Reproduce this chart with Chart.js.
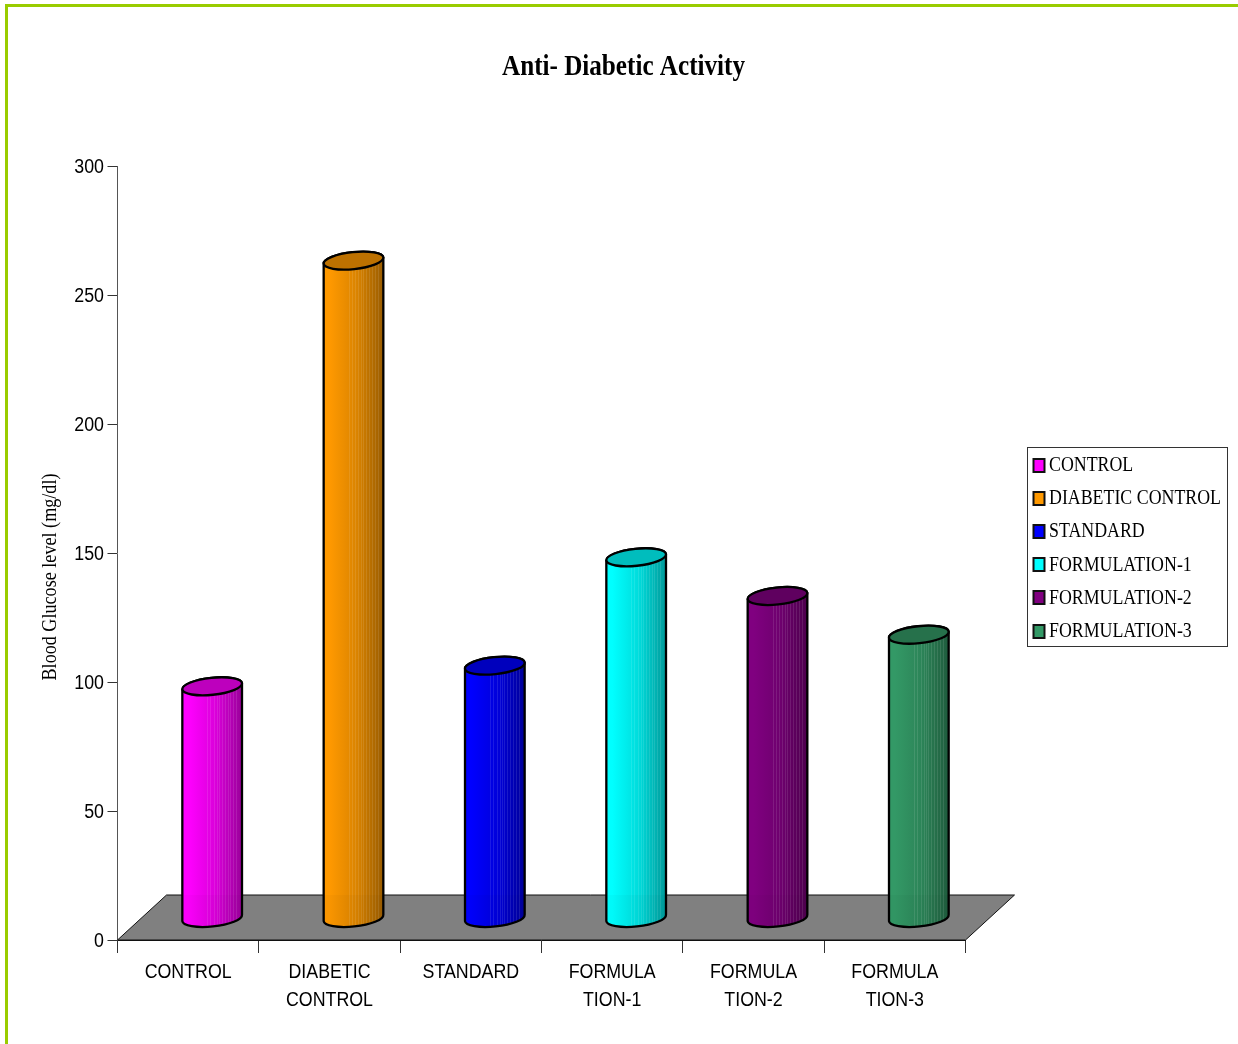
<!DOCTYPE html>
<html>
<head>
<meta charset="utf-8">
<title>Anti- Diabetic Activity</title>
<script src="https://cdn.jsdelivr.net/npm/chart.js@4/dist/chart.umd.min.js"></script>
<style>
    html, body { margin: 0; padding: 0; background: #fff; }
    #page { position: relative; width: 1238px; height: 1044px; overflow: hidden; }
    #frame { position: absolute; left: 5px; top: 4px; right: 0; bottom: 0; border-left: 3px solid #99cc00; border-top: 3px solid #99cc00; }
    #glucoseChart { position: absolute; left: 0; top: 0; }
</style>
</head>
<body>
<div id="page">
    <div id="frame"></div>
    <canvas id="glucoseChart" width="1238" height="1044"></canvas>
</div>
<script>
// Groupes et valeurs
const groupNames = ['CONTROL', 'DIABETIC CONTROL', 'STANDARD', 'FORMULATION-1', 'FORMULATION-2', 'FORMULATION-3'];
const tickLabels = [['CONTROL'], ['DIABETIC', 'CONTROL'], ['STANDARD'], ['FORMULA', 'TION-1'], ['FORMULA', 'TION-2'], ['FORMULA', 'TION-3']];
const glucoseValues = [90, 255, 98, 140, 125, 110];
const groupColors = ['#ff00ff', '#ff9900', '#0000ff', '#00ffff', '#800080', '#339966'];
const yTicks = [0, 50, 100, 150, 200, 250, 300];

const SERIF = '"Liberation Serif", "Times New Roman", serif';
const SANS = '"Liberation Sans", Arial, sans-serif';

// Décalage pseudo 3D : sol et position des cylindres sur le sol
const floorDepth = { x: 49, y: 45 };
const barShift = { x: 24, y: -21.5 };
const capRadiusY = 8.5;
const capTilt = -6 * Math.PI / 180;
const stripes = [0.42, 0.47, 0.53, 0.58, 0.62, 0.66, 0.71, 0.76, 0.8, 0.85, 0.9];

function shade(hex, k) {
    const n = parseInt(hex.slice(1), 16);
    const c = [(n >> 16) & 255, (n >> 8) & 255, n & 255].map(v => Math.round(v * k));
    return `rgb(${c[0]}, ${c[1]}, ${c[2]})`;
}

// Texte à chasse réduite
function squeezedText(ctx, text, x, y, font, scaleX, align) {
    ctx.save();
    ctx.font = font;
    ctx.fillStyle = '#000';
    ctx.textBaseline = 'middle';
    ctx.textAlign = align;
    ctx.translate(x, y);
    ctx.scale(scaleX, 1);
    ctx.fillText(text, 0, 0);
    ctx.restore();
}

function widthScale(ctx, text, font, width) {
    ctx.save();
    ctx.font = font;
    const s = width / ctx.measureText(text).width;
    ctx.restore();
    return s;
}

// Contour du cylindre : bord gauche, demi-ellipse basse, bord droit, demi-ellipse haute
function cylinderPath(ctx, el) {
    const rx = el.width / 2;
    ctx.moveTo(el.x - rx * Math.cos(capTilt), el.y - rx * Math.sin(capTilt));
    ctx.ellipse(el.x, el.base, rx, capRadiusY, capTilt, Math.PI, 0, true);
    ctx.ellipse(el.x, el.y, rx, capRadiusY, capTilt, 0, Math.PI, true);
    ctx.closePath();
}

const cylinderPlugin = {
    id: 'cylinders',
    beforeDatasetsDraw(chart) {
        // Sol gris
        const { ctx, scales: { x, y } } = chart;
        const y0 = y.getPixelForValue(0);
        ctx.save();
        ctx.beginPath();
        ctx.moveTo(x.left, y0);
        ctx.lineTo(x.right, y0);
        ctx.lineTo(x.right + floorDepth.x, y0 - floorDepth.y);
        ctx.lineTo(x.left + floorDepth.x, y0 - floorDepth.y);
        ctx.closePath();
        ctx.fillStyle = '#808080';
        ctx.fill();
        ctx.strokeStyle = '#111';
        ctx.lineWidth = 1;
        ctx.stroke();
        ctx.restore();
    },
    beforeDatasetDraw(chart, args) {
        // Les barres sont posées sur le sol, et découpées à la forme des cylindres
        const { ctx } = chart;
        ctx.save();
        ctx.translate(barShift.x, barShift.y);
        ctx.beginPath();
        args.meta.data.forEach(el => cylinderPath(ctx, el));
        ctx.clip();
    },
    afterDatasetDraw(chart, args) {
        const { ctx, scales: { y } } = chart;
        const floorBack = y.getPixelForValue(0) - floorDepth.y - barShift.y;
        ctx.restore();
        ctx.save();
        ctx.translate(barShift.x, barShift.y);
        args.meta.data.forEach((el, i) => {
            const color = groupColors[i];
            const left = el.x - el.width / 2;
            const grad = ctx.createLinearGradient(left, 0, left + el.width, 0);
            grad.addColorStop(0, color);
            grad.addColorStop(0.1, color);
            grad.addColorStop(0.55, shade(color, 0.86));
            grad.addColorStop(1, shade(color, 0.6));

            ctx.save();
            ctx.beginPath();
            cylinderPath(ctx, el);
            ctx.fillStyle = grad;
            ctx.fill();
            ctx.clip();
            ctx.strokeStyle = 'rgba(255, 255, 255, 0.1)';
            ctx.lineWidth = 1;
            stripes.forEach(t => {
                const sx = Math.round(left + el.width * t) + 0.5;
                ctx.beginPath();
                ctx.moveTo(sx, el.y - 20);
                ctx.lineTo(sx, el.base + 20);
                ctx.stroke();
            });
            // Le sol transparaît légèrement dans le bas du cylindre
            ctx.fillStyle = 'rgba(0, 0, 0, 0.025)';
            ctx.fillRect(left, floorBack, el.width, el.base + 20 - floorBack);
            ctx.restore();

            ctx.beginPath();
            cylinderPath(ctx, el);
            ctx.strokeStyle = '#000';
            ctx.lineWidth = 2.3;
            ctx.stroke();

            ctx.beginPath();
            ctx.ellipse(el.x, el.y, el.width / 2, capRadiusY, capTilt, 0, Math.PI * 2);
            ctx.fillStyle = shade(color, 0.74);
            ctx.fill();
            ctx.stroke();
        });
        ctx.restore();
    },
    afterDraw(chart) {
        const { ctx, scales: { x, y } } = chart;

        // Libellés des axes, positionnés par les échelles
        const tickFont = '20.5px ' + SANS;
        const tickScale = widthScale(ctx, 'CONTROL', tickFont, 87);
        x.ticks.forEach((tick, i) => {
            tickLabels[i].forEach((line, j) => {
                squeezedText(ctx, line, x.getPixelForTick(i), 972 + j * 28, tickFont, tickScale, 'center');
            });
        });
        y.ticks.forEach((tick) => {
            squeezedText(ctx, String(tick.value), 104, y.getPixelForValue(tick.value) + 1, tickFont, tickScale, 'right');
        });

        // Titre du graphique
        const titleFont = 'bold 29px ' + SERIF;
        const titleText = 'Anti- Diabetic Activity';
        squeezedText(ctx, titleText, 623.5, 68, titleFont, widthScale(ctx, titleText, titleFont, 243), 'center');

        // Titre de l'axe Y
        const axisFont = '20px ' + SERIF;
        const axisText = 'Blood Glucose level (mg/dl)';
        ctx.save();
        ctx.translate(51, 577);
        ctx.rotate(-Math.PI / 2);
        squeezedText(ctx, axisText, 0, 0, axisFont, widthScale(ctx, axisText, axisFont, 207), 'center');
        ctx.restore();

        // Légende encadrée
        const legendFont = '21px ' + SERIF;
        const legendScale = widthScale(ctx, groupNames[1], legendFont, 172);
        ctx.save();
        ctx.strokeStyle = '#333';
        ctx.lineWidth = 1;
        ctx.strokeRect(1027.5, 447.5, 200, 199);
        groupNames.forEach((name, i) => {
            const rowY = 465.5 + i * 33.2;
            ctx.fillStyle = groupColors[i];
            ctx.strokeStyle = '#111';
            ctx.lineWidth = 2;
            ctx.fillRect(1033.5, Math.round(rowY) - 7, 11, 13);
            ctx.strokeRect(1033.5, Math.round(rowY) - 7, 11, 13);
            squeezedText(ctx, name, 1049, rowY, legendFont, legendScale, 'left');
        });
        ctx.restore();
    }
};

const chart = new Chart(document.getElementById('glucoseChart'), {
    type: 'bar',
    data: {
        labels: tickLabels,
        datasets: [{
            label: 'Blood Glucose level (mg/dl)',
            data: glucoseValues,
            backgroundColor: groupColors,
            barThickness: 60,
            clip: false
        }]
    },
    plugins: [cylinderPlugin],
    options: {
        responsive: false,
        animation: false,
        layout: { padding: { left: 0, right: 272.5, top: 166, bottom: 0 } },
        scales: {
            x: {
                afterFit: (scale) => { scale.height = 104; },
                border: { color: '#111', width: 1 },
                grid: { drawOnChartArea: false, color: '#333', tickLength: 13 },
                ticks: { display: false, autoSkip: false }
            },
            y: {
                min: 0,
                max: 300,
                afterFit: (scale) => { scale.width = 117.5; },
                afterBuildTicks: (scale) => { scale.ticks = yTicks.map(value => ({ value })); },
                border: { color: '#555', width: 1 },
                grid: { drawOnChartArea: false, color: '#333', tickLength: 10 },
                ticks: { display: false }
            }
        },
        plugins: {
            tooltip: { enabled: false },
            legend: { display: false }
        }
    }
});
</script>
</body>
</html>
